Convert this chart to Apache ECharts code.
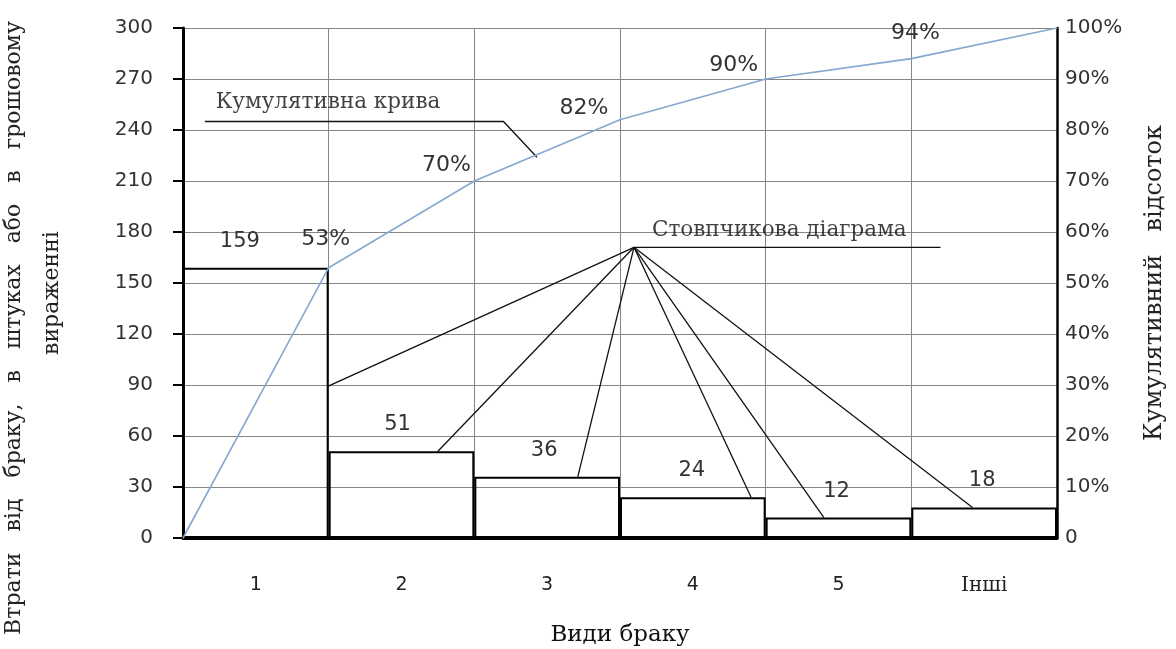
<!DOCTYPE html>
<html>
<head>
<meta charset="utf-8">
<script src="https://cdn.jsdelivr.net/npm/echarts@6/dist/echarts.min.js"></script>
<style>
html,body{margin:0;padding:0;background:#fff}
#pareto{width:1176px;height:649px}
</style>
</head>
<body>
<div id="pareto"></div>
<script>
// дані діаграми Парето
var categories = ['1', '2', '3', '4', '5', 'Інші']
var lossValues = [159, 51, 36, 24, 12, 18]
var cumPercent = [0, 53, 70, 82, 90, 94, 100]
var cumLabels = ['', '53%', '70%', '82%', '90%', '94%', '']
var leftMax = 300, leftStep = 30
var rightMax = 100, rightStep = 10

// виноски (x - у ширинах стовпців, y - у штуках)
var curveLeader = [[0.15, 245], [2.2, 245], [2.43, 224]]
var curveNote = [0.19, 256]
var barHub = [3.096, 171]
var barUnderlineEnd = [5.2, 171]
var barLeaderEnds = [[0.99, 89], [1.75, 51], [2.71, 36], [3.9, 24], [4.4, 12], [5.42, 18]]
var barNote = [3.185, 181]

// зсуви підписів
var pctLabelOffset = [[0, 0], [-3, -12], [-28, 1], [-36, 5], [-32, 3], [4, -9], [0, 0]]
var barLabelOffset = [[-16, 0], [-4, 0], [-3, 0], [-1, 0], [-2, 0], [-2, 0]]

var serif = 'DejaVu Serif'
var sans = 'DejaVu Sans'

var pareto_chart = echarts.init(document.getElementById('pareto'))

var line_data = []
for (let i = 0; i < cumPercent.length; i++) {
	line_data.push({
		value: [i, cumPercent[i]],
		label: {show: cumLabels[i] !== '', formatter: cumLabels[i], offset: pctLabelOffset[i]}
	})
}
var bar_data = []
for (let i = 0; i < lossValues.length; i++) {
	bar_data.push({value: lossValues[i], label: {offset: barLabelOffset[i]}})
}
var leader_data = [{coords: curveLeader}, {coords: [barHub, barUnderlineEnd]}]
for (let i = 0; i < barLeaderEnds.length; i++) {
	leader_data.push({coords: [barHub, barLeaderEnds[i]]})
}

var pareto_option = {
	animation: false,
	grid: {left: 183, right: 119, top: 28, bottom: 111, outerBoundsMode: 'none', containLabel: false},
	xAxis: [
		{
			type: 'category',
			data: categories,
			name: 'Види браку',
			nameLocation: 'middle',
			nameGap: 86,
			nameTextStyle: {fontFamily: serif, fontSize: 23, color: '#111'},
			axisLine: {lineStyle: {color: '#000', width: 3}},
			axisTick: {show: false},
			axisLabel: {
				margin: 38,
				fontFamily: sans, fontSize: 19, color: '#222',
				formatter: function (v) { return v === 'Інші' ? '{s|' + v + '}' : v },
				rich: {s: {fontFamily: serif, fontSize: 20, color: '#222'}}
			},
			splitLine: {show: true, lineStyle: {color: '#858585', width: 1}}
		},
		{type: 'value', min: 0, max: categories.length, show: false}
	],
	yAxis: [
		{
			type: 'value',
			min: 0, max: leftMax, interval: leftStep,
			name: 'Втрати   від   браку,   в   штуках   або   в   грошовому\n          вираженні',
			nameLocation: 'middle',
			nameGap: 112,
			nameTextStyle: {fontFamily: serif, fontSize: 22, color: '#222', lineHeight: 38, padding: [0, 90, 0, 0]},
			axisLine: {show: true, lineStyle: {color: '#000', width: 3}},
			axisTick: {show: true, length: 10, lineStyle: {color: '#000', width: 2}},
			axisLabel: {margin: 30, fontFamily: sans, fontSize: 20, color: '#333'},
			splitLine: {show: true, lineStyle: {color: '#858585', width: 1}}
		},
		{
			type: 'value',
			position: 'right',
			min: 0, max: rightMax, interval: rightStep,
			name: 'Кумулятивний   відсоток',
			nameLocation: 'middle',
			nameGap: 86,
			nameTextStyle: {fontFamily: serif, fontSize: 24, color: '#222'},
			axisLine: {show: true, lineStyle: {color: '#000', width: 2.5}},
			axisTick: {show: false},
			axisLabel: {
				margin: 8, fontFamily: sans, fontSize: 20, color: '#333',
				formatter: function (v) { return v === 0 ? '0' : v + '%' }
			},
			splitLine: {show: false}
		}
	],
	series: [
		{
			name: 'Втрати',
			type: 'bar',
			barCategoryGap: '0%',
			data: bar_data,
			itemStyle: {color: 'rgba(255,255,255,0)', borderColor: '#000', borderWidth: 2},
			label: {show: true, position: 'top', distance: 16, fontFamily: sans, fontSize: 21, color: '#333'},
			silent: true
		},
		{
			name: 'Кумулятивна',
			type: 'line',
			xAxisIndex: 1,
			yAxisIndex: 1,
			data: line_data,
			symbol: 'circle',
			symbolSize: 1,
			itemStyle: {color: '#86a8d0'},
			lineStyle: {color: '#86a8d0', width: 1.6},
			label: {position: 'top', fontFamily: sans, fontSize: 22, color: '#333'},
			silent: true,
			z: 4
		},
		{
			name: 'Виноски',
			type: 'lines',
			coordinateSystem: 'cartesian2d',
			xAxisIndex: 1,
			yAxisIndex: 0,
			polyline: true,
			data: leader_data,
			lineStyle: {color: '#111', width: 1.3, opacity: 1, curveness: 0},
			silent: true,
			z: 3
		},
		{
			name: 'Підписи',
			type: 'scatter',
			xAxisIndex: 1,
			yAxisIndex: 0,
			symbolSize: 0,
			data: [
				{value: curveNote, name: 'Кумулятивна крива'},
				{value: barNote, name: 'Стовпчикова діаграма'}
			],
			label: {show: true, position: 'right', distance: 5, formatter: '{b}', fontFamily: serif, fontSize: 21.5, color: '#111'},
			silent: true,
			z: 5
		}
	]
}
pareto_chart.setOption(pareto_option)
</script>
</body>
</html>
